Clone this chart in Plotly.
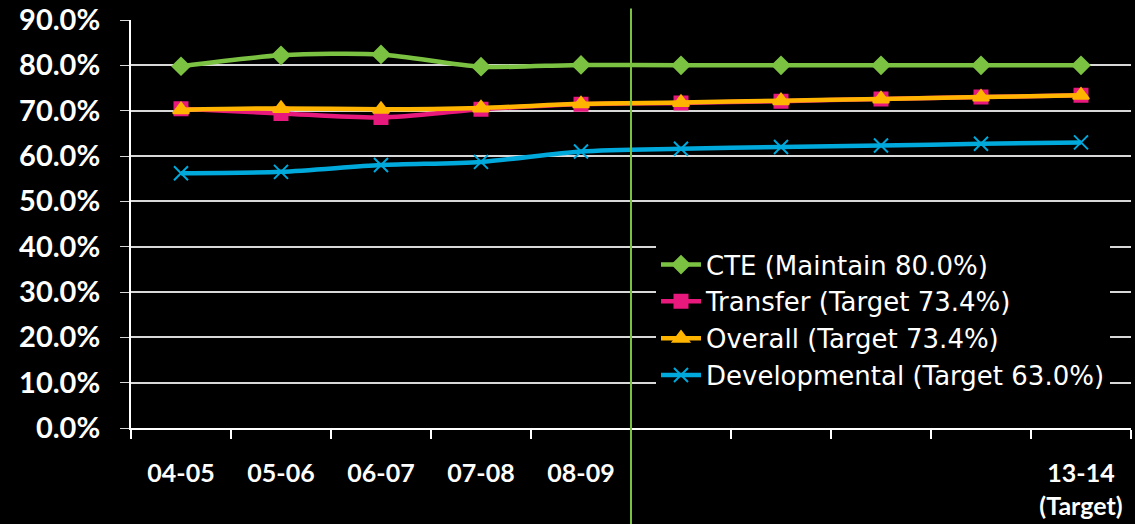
import plotly.graph_objects as go

categories = ["04-05", "05-06", "06-07", "07-08", "08-09",
              "09-10", "10-11", "11-12", "12-13", "13-14"]
tick_labels = ["04-05", "05-06", "06-07", "07-08", "08-09",
               "", "", "", "", "13-14<br>(Target)"]

cte = [79.8, 82.2, 82.4, 79.7, 80.1, 80.0, 80.0, 80.0, 80.0, 80.0]
transfer = [70.4, 69.4, 68.5, 70.3, 71.4, 71.7, 72.1, 72.6, 73.0, 73.4]
overall = [70.2, 70.5, 70.3, 70.6, 71.5, 71.8, 72.2, 72.6, 73.0, 73.4]
developmental = [56.2, 56.5, 58.0, 58.7, 61.0, 61.6, 62.0, 62.3, 62.7, 63.0]

series_names = ["CTE (Maintain 80.0%)", "Transfer (Target 73.4%)",
                "Overall (Target 73.4%)", "Developmental (Target 63.0%)"]
colors = ["#7cc242", "#e8197d", "#ffb400", "#00a9dc"]
symbols = ["diamond", "square", "triangle-up", "x-thin-open"]
sizes = [13, 13, 14, 14]

fig = go.Figure()
for name, vals, col, sym, sz in zip(series_names,
                                    [cte, transfer, overall, developmental],
                                    colors, symbols, sizes):
    fig.add_trace(go.Scatter(
        x=categories, y=vals, name=name, mode="lines+markers",
        line=dict(color=col, width=4.5, shape="spline", smoothing=0.8),
        marker=dict(symbol=sym, size=sz, color=col,
                    line=dict(color=col, width=2)),
    ))

font_family = "Lato, 'Open Sans', sans-serif"

fig.add_shape(type="line", xref="x", yref="paper",
              x0=4.5, x1=4.5, y0=-0.235, y1=1.028,
              line=dict(color="#7cc242", width=2), layer="above")

fig.update_layout(
    width=1135, height=524,
    paper_bgcolor="black", plot_bgcolor="black",
    margin=dict(l=131, r=4, t=20, b=96, autoexpand=False),
    font=dict(family=font_family, color="white"),
    showlegend=True,
    legend=dict(
        x=0.525, y=0.458, xanchor="left", yanchor="top",
        bgcolor="black",
        font=dict(size=26, color="white", family="'DejaVu Sans', 'Open Sans', sans-serif"),
        itemwidth=40, tracegroupgap=0, traceorder="normal",
    ),
    xaxis=dict(
        type="category", automargin=False,
        tickmode="array", tickvals=categories, ticktext=tick_labels,
        tickson="boundaries",
        range=[-0.5, 9.5],
        showgrid=False, zeroline=False,
        showline=True, linecolor="white", linewidth=2,
        ticks="outside", ticklen=9, tickcolor="white", tickwidth=1.5,
        ticklabelstandoff=22,
        tickfont=dict(size=25, color="white", family=font_family, weight="bold"),
    ),
    yaxis=dict(
        range=[0, 90], dtick=10, tick0=0, automargin=False,
        tickformat=".1f", ticksuffix="%",
        showgrid=True, gridcolor="#d8d8d8", gridwidth=1.5,
        zeroline=False,
        showline=True, linecolor="white", linewidth=2,
        ticks="outside", ticklen=9, tickcolor="#d8d8d8",
        ticklabelstandoff=14,
        tickfont=dict(size=29, color="white", family=font_family, weight="bold"),
    ),
)

fig.write_html(
    "out.html",
    config={"displayModeBar": False},
    post_script="document.body.style.margin='0';document.body.style.background='black';",
)
